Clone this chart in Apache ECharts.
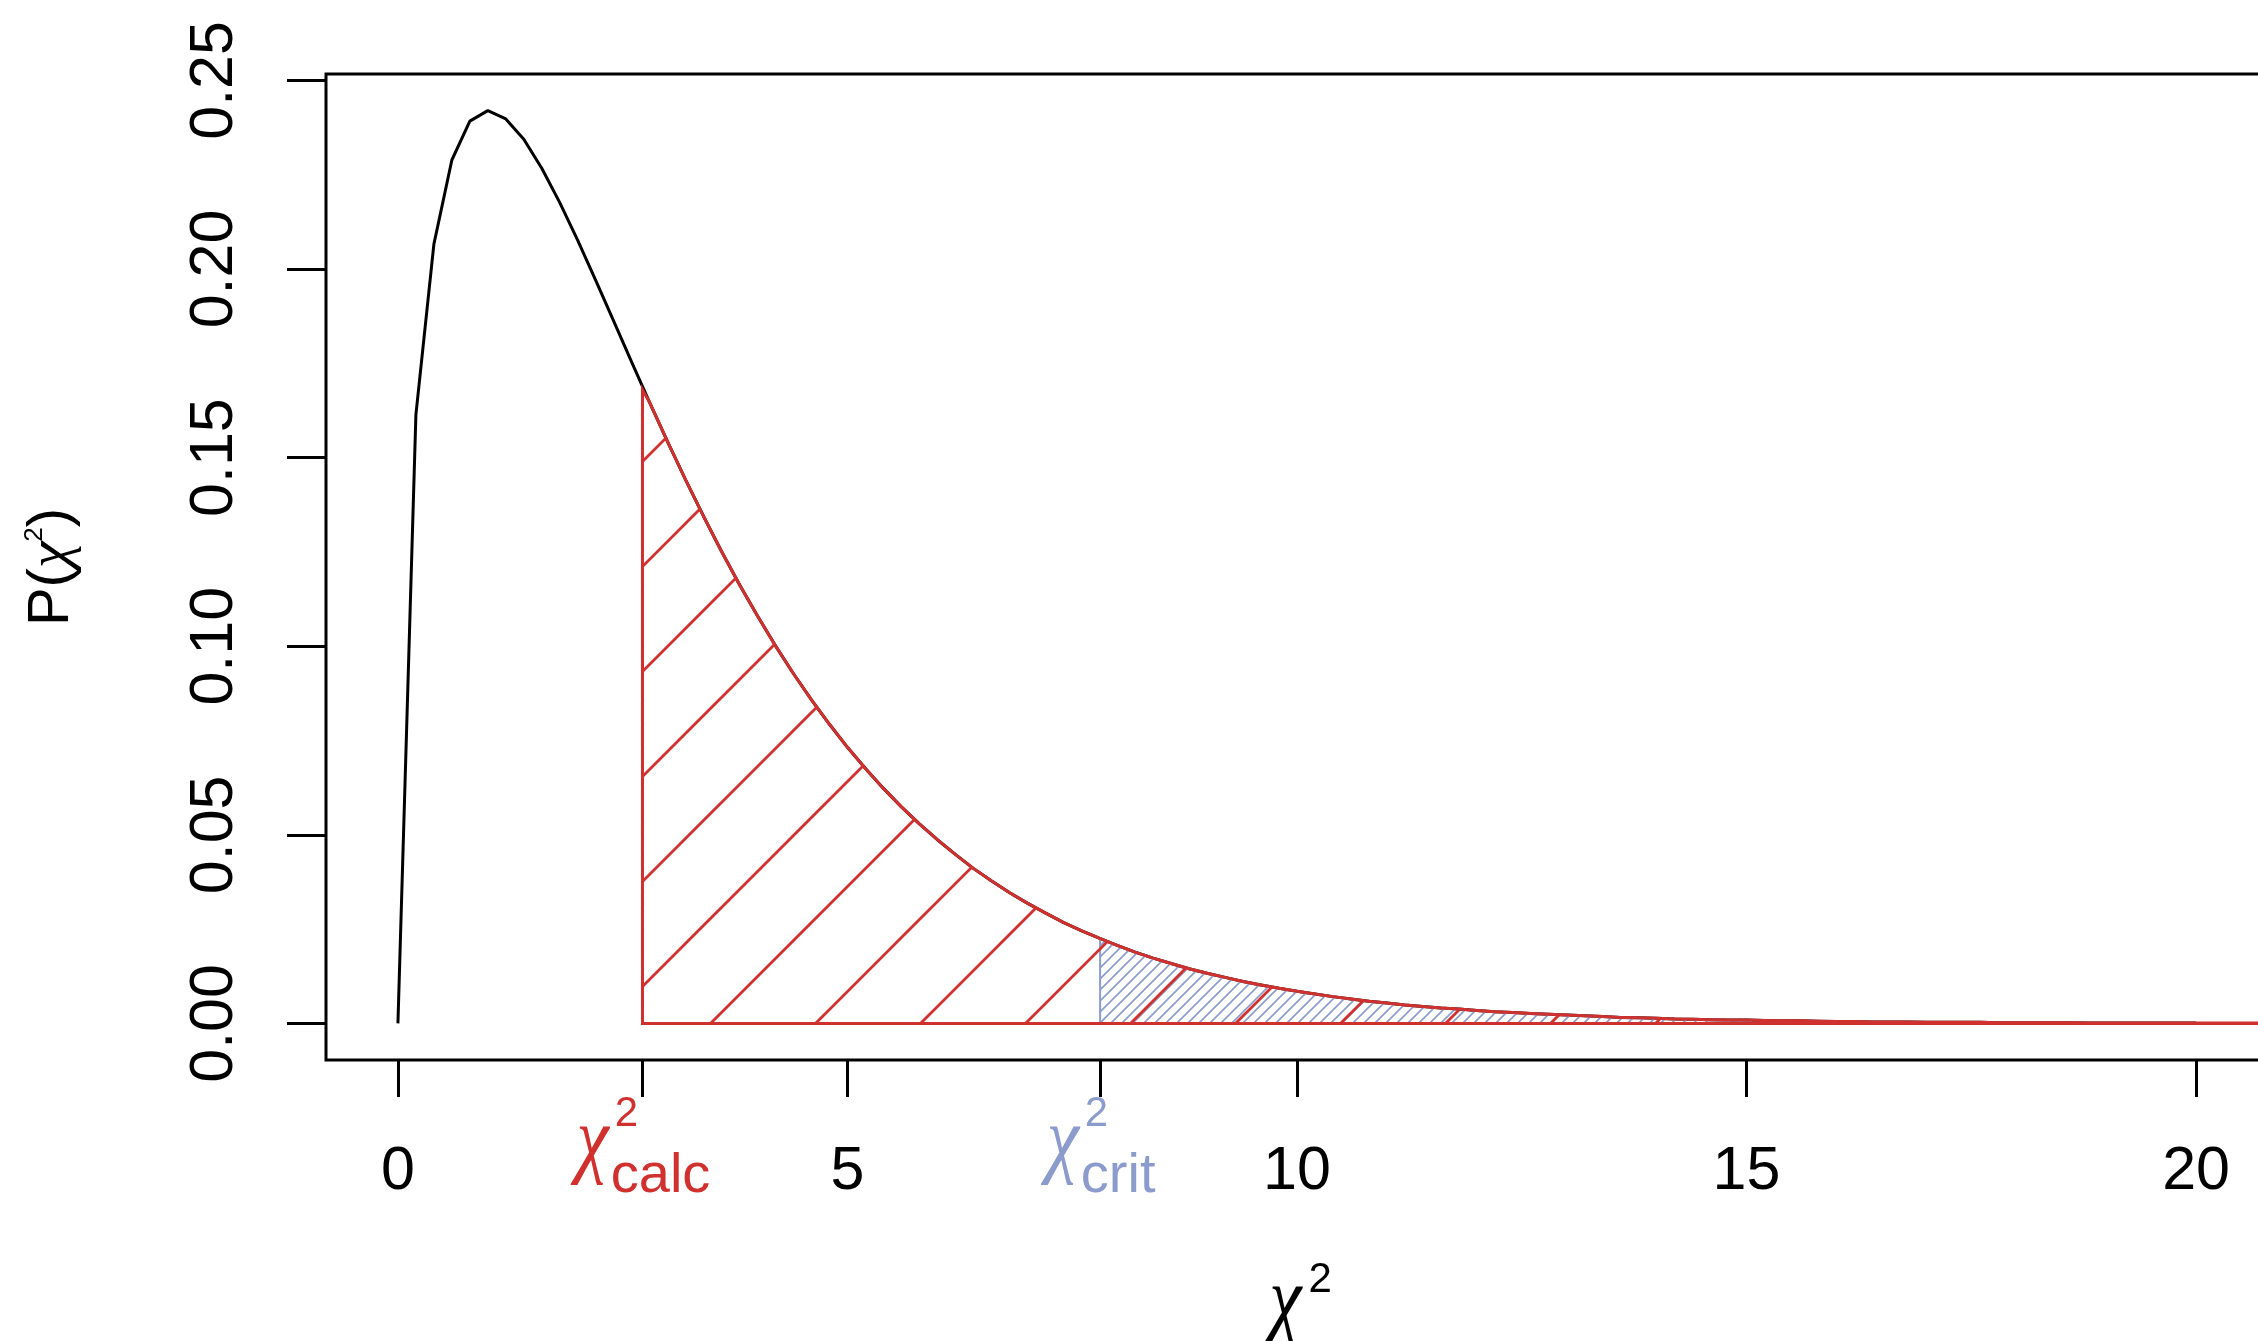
<!DOCTYPE html>
<html>
<head>
<meta charset="utf-8">
<script src="https://cdn.jsdelivr.net/npm/echarts@6/dist/echarts.min.js"></script>
<style>
html, body { margin: 0; padding: 0; background: #fff; }
#chart { width: 2258px; height: 1341px; }
</style>
</head>
<body>
<div id="chart"></div>
<script>
// density curve, one point every 0.2
var xs = [0, 0.2, 0.4, 0.6, 0.8, 1, 1.2, 1.4, 1.6, 1.8,
    2, 2.2, 2.4, 2.6, 2.8, 3, 3.2, 3.4, 3.6, 3.8,
    4, 4.2, 4.4, 4.6, 4.8, 5, 5.2, 5.4, 5.6, 5.8,
    6, 6.2, 6.4, 6.6, 6.8, 7, 7.2, 7.4, 7.6, 7.8,
    8, 8.2, 8.4, 8.6, 8.8, 9, 9.2, 9.4, 9.6, 9.8,
    10, 10.2, 10.4, 10.6, 10.8, 11, 11.2, 11.4, 11.6, 11.8,
    12, 12.2, 12.4, 12.6, 12.8, 13, 13.2, 13.4, 13.6, 13.8,
    14, 14.2, 14.4, 14.6, 14.8, 15, 15.2, 15.4, 15.6, 15.8,
    16, 16.2, 16.4, 16.6, 16.8, 17, 17.2, 17.4, 17.6, 17.8,
    18, 18.2, 18.4, 18.6, 18.8, 19, 19.2, 19.4, 19.6, 19.8,
    20]
var dens = [0, 0.1614, 0.2066, 0.2289, 0.2392, 0.2420, 0.2398, 0.2344, 0.2267, 0.2176,
    0.2076, 0.1970, 0.1862, 0.1753, 0.1646, 0.1542, 0.1441, 0.1344, 0.1251, 0.1163,
    0.1080, 0.1001, 0.0927, 0.0858, 0.0793, 0.0732, 0.0676, 0.0623, 0.0574, 0.0529,
    0.0487, 0.0448, 0.0411, 0.0378, 0.0347, 0.0319, 0.0293, 0.0268, 0.0246, 0.0226,
    0.0207, 0.0189, 0.0173, 0.0159, 0.0145, 0.0133, 0.0122, 0.0111, 0.0102, 0.0093,
    0.0085, 0.0078, 0.0071, 0.0065, 0.0059, 0.0054, 0.0049, 0.0045, 0.0041, 0.0038,
    0.0034, 0.0031, 0.0029, 0.0026, 0.0024, 0.0022, 0.0020, 0.0018, 0.0016, 0.0015,
    0.0014, 0.0012, 0.0011, 0.0010, 0.0009, 0.0009, 0.0008, 0.0007, 0.0007, 0.0006,
    0.0005, 0.0005, 0.0004, 0.0004, 0.0004, 0.0003, 0.0003, 0.0003, 0.0003, 0.0002,
    0.0002, 0.0002, 0.0002, 0.0002, 0.0001, 0.0001, 0.0001, 0.0001, 0.0001, 0.0001,
    0.0001]

var xTickLabels = [0, 5, 10, 15, 20]
var yTickLabels = [0, 0.05, 0.10, 0.15, 0.20, 0.25]

// the two marked values and the curve height there
var xCalc = 2.72
var yCalc = 0.168
var xCrit = 7.81
var yCrit = 0.0225
// shading runs on to the edge of the plot
var xEnd = 20.8
var yEnd = 0.0001

var RED = '#d0302e'
var BLUE = '#8b9bcc'
var FONT = '"Liberation Sans", Arial, sans-serif'
var CHI_FONT = 'italic 86px "Liberation Serif", serif'
var CHI_SX = 0.85

var chart = echarts.init(document.getElementById('chart'))

function curvePoints() {
    return xs.map(function (x, i) { return [x, dens[i]] })
}

function shadePoints(x0, y0) {
    var pts = [[x0, 0], [x0, y0]]
    xs.forEach(function (x, i) {
        if (x > x0) pts.push([x, dens[i]])
    })
    pts.push([xEnd, yEnd])
    pts.push([xEnd, 0])
    return pts
}

// 45 degree hatching tile, lines x + y = k * step
function hatch(step, width, color, offset) {
    var c = document.createElement('canvas')
    c.width = step
    c.height = step
    var g = c.getContext('2d')
    g.strokeStyle = color
    g.lineWidth = width
    g.beginPath()
    for (var k = 0; k <= 2; k++) {
        var s = k * step
        g.moveTo(s + step, -step)
        g.lineTo(s - 2 * step, 2 * step)
    }
    g.stroke()
    return { image: c, repeat: 'repeat', x: offset, y: 0 }
}

function shadeSeries(pts, fill, stroke, lw, z) {
    return {
        type: 'custom',
        coordinateSystem: 'cartesian2d',
        silent: true,
        clip: false,
        z: z,
        data: [[0, 0]],
        renderItem: function (params, api) {
            return {
                type: 'polygon',
                shape: { points: pts.map(function (p) { return api.coord(p) }) },
                style: { fill: fill, stroke: stroke, lineWidth: lw }
            }
        }
    }
}

var option = {
    animation: false,
    backgroundColor: '#fff',
    textStyle: { fontFamily: FONT },
    grid: {
        left: 326, top: 74, right: -10, bottom: 281,
        show: true, borderColor: '#000', borderWidth: 3,
        backgroundColor: 'transparent',
        outerBoundsMode: 'none'
    },
    xAxis: {
        type: 'value', min: -0.8, max: 20.8,
        splitLine: { show: false },
        axisLine: { show: false, onZero: false },
        axisTick: {
            show: true, length: 37,
            customValues: xTickLabels.concat([xCalc, xCrit]),
            lineStyle: { color: '#000', width: 3 }
        },
        axisLabel: {
            customValues: xTickLabels,
            fontSize: 61, color: '#000', fontFamily: FONT, margin: 82
        }
    },
    yAxis: {
        type: 'value', min: -0.0097, max: 0.2517,
        splitLine: { show: false },
        axisLine: { show: false, onZero: false },
        axisTick: {
            show: true, length: 39,
            customValues: yTickLabels,
            lineStyle: { color: '#000', width: 3 }
        },
        axisLabel: {
            customValues: yTickLabels,
            rotate: 90, fontSize: 61, color: '#000', fontFamily: FONT, margin: 80,
            formatter: function (v) { return v.toFixed(2) }
        }
    },
    series: [
        {
            type: 'line', data: curvePoints(), showSymbol: false, silent: true, z: 2,
            lineStyle: { color: '#000', width: 3 }
        },
        shadeSeries(shadePoints(xCrit, yCrit), hatch(11, 1.6, BLUE, 0), BLUE, 2, 3),
        shadeSeries(shadePoints(xCalc, yCalc), hatch(105, 2.8, RED, 54), RED, 3, 4)
    ]
}
chart.setOption(option)

var mctx = document.createElement('canvas').getContext('2d')
function textW(font, s) {
    mctx.font = font
    return mctx.measureText(s).width
}

function txt(x, y, text, font, color, extra) {
    var el = {
        type: 'text', x: x, y: y, silent: true,
        style: {
            text: text, font: font, fill: color,
            align: 'left', textAlign: 'left',
            verticalAlign: 'middle', textVerticalAlign: 'middle'
        }
    }
    if (extra) Object.keys(extra).forEach(function (k) { el[k] = extra[k] })
    return el
}

// chi^2 with a subscript, centred on its tick
function chiLabel(xv, sub, color) {
    var cx = chart.convertToPixel({ xAxisIndex: 0 }, xv)
    var subFont = '56px ' + FONT
    var chiW = textW(CHI_FONT, 'χ') * CHI_SX
    var subW = textW(subFont, sub)
    var left = cx - (chiW + subW) / 2
    return [
        txt(left, 1143, 'χ', CHI_FONT, color, { scaleX: CHI_SX }),
        txt(left + chiW + 6, 1114, '2', '42px ' + FONT, color),
        txt(left + chiW + 2, 1177, sub, subFont, color)
    ]
}

function axisTitle() {
    var cx = chart.convertToPixel({ xAxisIndex: 0 }, 10)
    var chiW = textW(CHI_FONT, 'χ') * CHI_SX
    var supW = textW('42px ' + FONT, '2')
    var left = cx - (chiW + supW) / 2
    return [
        txt(left, 1303, 'χ', CHI_FONT, '#000', { scaleX: CHI_SX }),
        txt(left + chiW + 7, 1280, '2', '42px ' + FONT, '#000')
    ]
}

var yTitle = {
    type: 'text', x: 52, y: 567, rotation: Math.PI / 2, silent: true,
    style: {
        text: '{n|P(}{c|χ}{s|2}{n|)}',
        align: 'center', textAlign: 'center',
        verticalAlign: 'middle', textVerticalAlign: 'middle',
        fill: '#000',
        rich: {
            n: { fontSize: 58, fontFamily: FONT, fill: '#000', color: '#000' },
            c: { fontSize: 60, fontFamily: '"Liberation Serif", serif', fontStyle: 'italic', fill: '#000', color: '#000' },
            s: { fontSize: 26, fontFamily: FONT, verticalAlign: 'top', fill: '#000', color: '#000' }
        }
    }
}

chart.setOption({
    graphic: [].concat(
        chiLabel(xCalc, 'calc', RED),
        chiLabel(xCrit, 'crit', BLUE),
        axisTitle(),
        [yTitle]
    )
})
</script>
</body>
</html>
